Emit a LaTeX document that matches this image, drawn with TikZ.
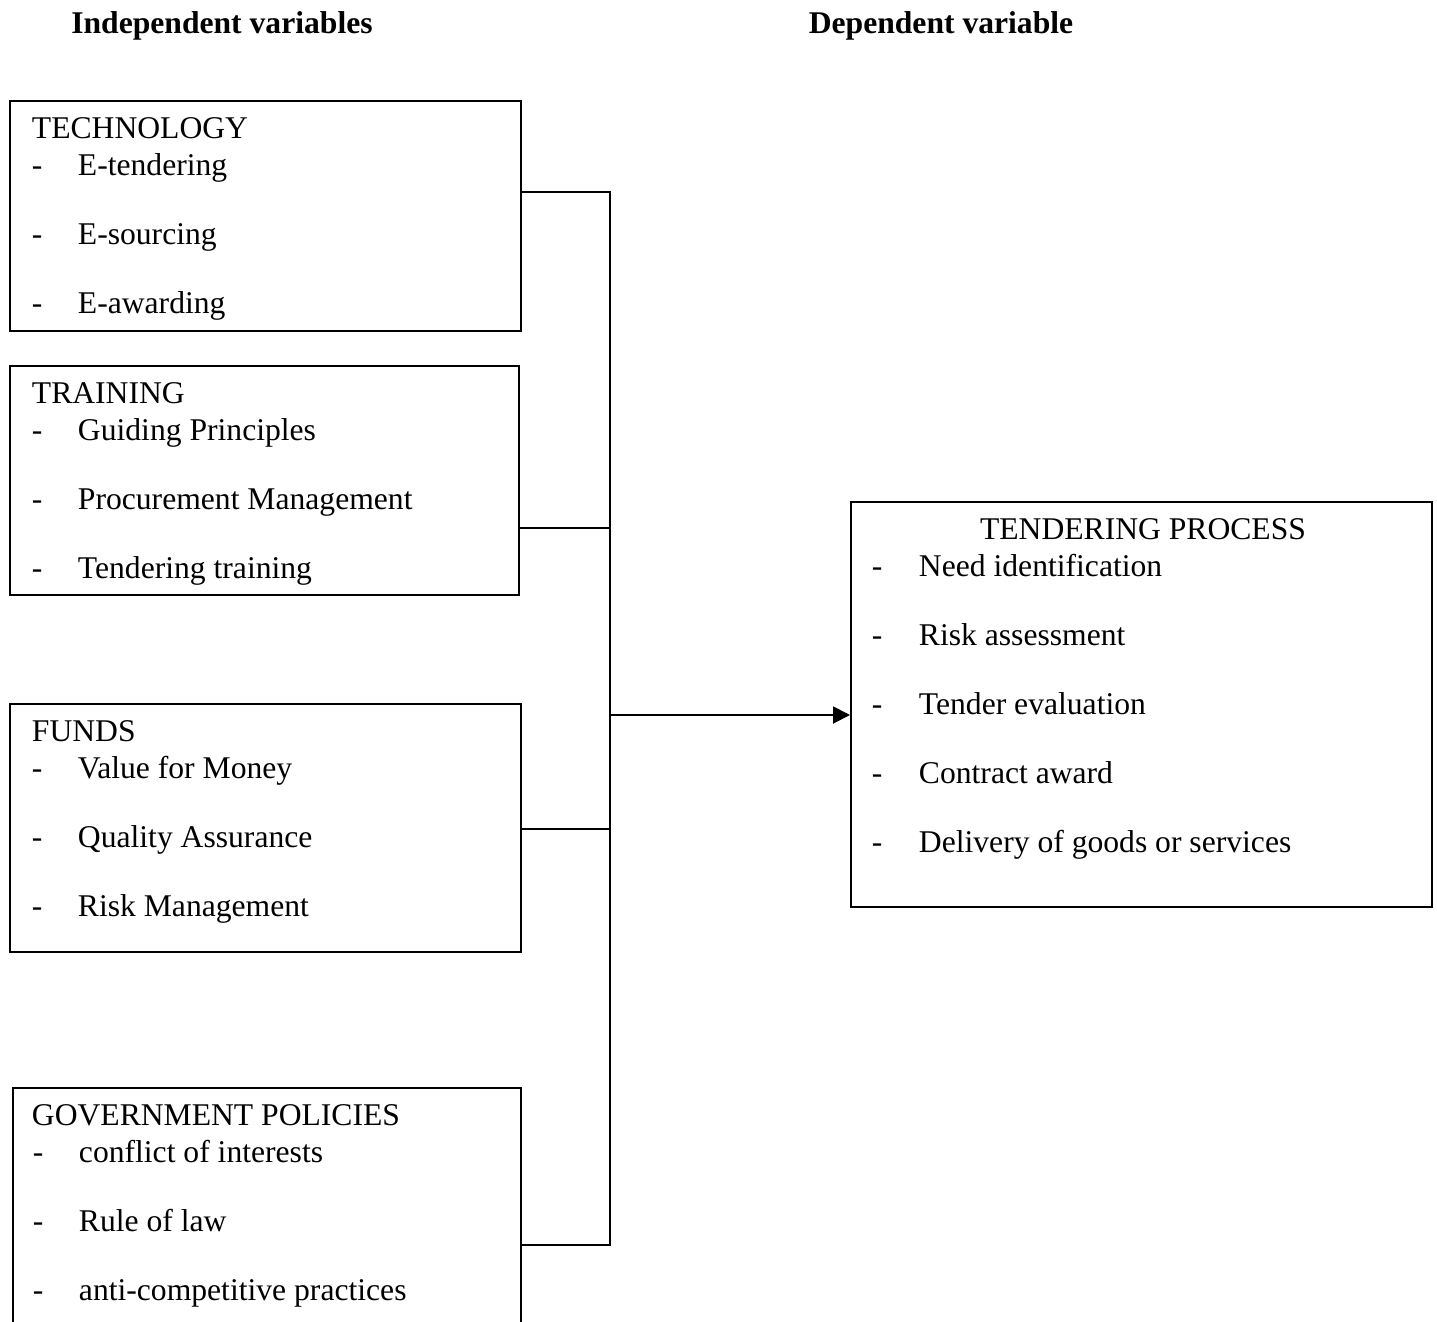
\documentclass[tikz,border=0pt]{standalone}
\usepackage{fontspec}
\setmainfont{Liberation Serif}
\usetikzlibrary{arrows.meta}

\begin{document}
\begin{tikzpicture}[x=0.02cm,y=-0.02cm,line width=1.1pt,
	box/.style={draw, anchor=north west, inner sep=0pt},
	txt/.style={anchor=base west, inner sep=0pt, font=\fontsize{18}{20}\selectfont},
	head/.style={anchor=base, inner sep=0pt, font=\fontsize{18}{20}\selectfont\bfseries}]
	\useasboundingbox (0,0) rectangle (1437,1322);
	\clip (0,0) rectangle (1437,1322);
	% headings
	\node[head] (indep) at (222,33) {Independent variables};
	\node[head] (dep) at (941,33) {Dependent variable};
	% boxes
	\node[box, minimum width=10.22cm, minimum height=4.60cm] (tech) at (9,100) {};
	\node[box, minimum width=10.18cm, minimum height=4.58cm] (train) at (9,365) {};
	\node[box, minimum width=10.22cm, minimum height=4.96cm] (funds) at (9,703) {};
	\node[box, minimum width=10.16cm, minimum height=5.20cm] (gov) at (12,1087) {};
	\node[box, minimum width=11.62cm, minimum height=8.10cm] (tender) at (850,501) {};
	% texts
	\node[txt] (tech-t) at (31,138) {TECHNOLOGY};
	\foreach \s [count=\i] in {E-tendering,E-sourcing,E-awarding}{
		\node[txt] (tech-d\i) at (31,{175+69*(\i-1)}) {-};
		\node[txt] (tech-\i) at (77,{175+69*(\i-1)}) {\s};
	}
	\node[txt] (train-t) at (31,403) {TRAINING};
	\foreach \s [count=\i] in {Guiding Principles,Procurement Management,Tendering training}{
		\node[txt] (train-d\i) at (31,{440+69*(\i-1)}) {-};
		\node[txt] (train-\i) at (77,{440+69*(\i-1)}) {\s};
	}
	\node[txt] (funds-t) at (31,741) {FUNDS};
	\foreach \s [count=\i] in {Value for Money,Quality Assurance,Risk Management}{
		\node[txt] (funds-d\i) at (31,{778+69*(\i-1)}) {-};
		\node[txt] (funds-\i) at (77,{778+69*(\i-1)}) {\s};
	}
	\node[txt] (gov-t) at (31,1125) {GOVERNMENT POLICIES};
	\foreach \s [count=\i] in {conflict of interests,Rule of law,anti-competitive practices}{
		\node[txt] (gov-d\i) at (32,{1162+69*(\i-1)}) {-};
		\node[txt] (gov-\i) at (78,{1162+69*(\i-1)}) {\s};
	}
	\node[txt, anchor=base] (tender-t) at (1143,539) {TENDERING PROCESS};
	\foreach \s [count=\i] in {Need identification,Risk assessment,Tender evaluation,Contract award,Delivery of goods or services}{
		\node[txt] (tender-d\i) at (871,{576+69*(\i-1)}) {-};
		\node[txt] (tender-\i) at (918,{576+69*(\i-1)}) {\s};
	}
	% connectors
	\coordinate (bus1) at (610,192);
	\coordinate (bus2) at (610,528);
	\coordinate (bus3) at (610,829);
	\coordinate (bus4) at (610,1245);
	\coordinate (arr) at (610,715);
	\draw (tech.east |- bus1) -- (bus1) -- (bus4) -- (gov.east |- bus4);
	\draw (train.east |- bus2) -- (bus2);
	\draw (funds.east |- bus3) -- (bus3);
	\draw[-{Triangle[length=0.34cm,width=0.34cm]}] (arr) -- (tender.west |- arr);
\end{tikzpicture}
\end{document}
